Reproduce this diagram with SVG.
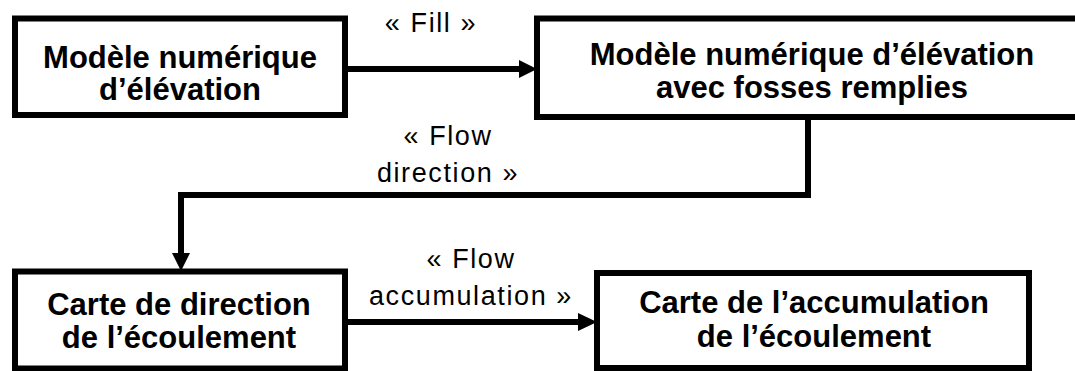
<svg xmlns="http://www.w3.org/2000/svg" width="1075" height="371" viewBox="0 0 1075 371">
  <style>
    .box { fill: #ffffff; stroke: #000000; stroke-width: 6; }
    .nt { font-family: "Liberation Sans", Arial, sans-serif; font-weight: bold; font-size: 31px; fill: #000000; text-anchor: middle; }
    .lbl { font-family: "Liberation Sans", Arial, sans-serif; font-size: 27px; letter-spacing: 1.6px; fill: #000000; text-anchor: middle; }
    .edge { fill: none; stroke: #000000; stroke-width: 6; stroke-linejoin: miter; stroke-linecap: butt; }
    .head { fill: #000000; }
  </style>
  <rect width="1075" height="371" fill="#ffffff"/>

  <g id="connectors">
    <path class="edge" d="M345 69 H520"/>
    <polygon class="head" points="519,60 537,69 519,78"/>
    <path class="edge" d="M808 117 V195 H181 V255"/>
    <polygon class="head" points="172,253 181,271 190,253"/>
    <path class="edge" d="M345 322 H580"/>
    <polygon class="head" points="578,313 597,322 578,331"/>
  </g>

  <g id="labels">
    <text class="lbl" x="431" y="32">« Fill »</text>
    <text class="lbl" x="448" y="145">« Flow</text>
    <text class="lbl" x="448" y="182">direction »</text>
    <text class="lbl" x="471" y="268">« Flow</text>
    <text class="lbl" x="471" y="305">accumulation »</text>
  </g>

  <g id="node-mne">
    <rect class="box" x="15" y="18.5" width="330" height="96.5"/>
    <text class="nt" x="180" y="68">Modèle numérique</text>
    <text class="nt" x="180" y="100">d’élévation</text>
  </g>

  <g id="node-mne-rempli">
    <rect class="box" x="537" y="18.5" width="600" height="98.5"/>
    <text class="nt" x="812" y="65">Modèle numérique d’élévation</text>
    <text class="nt" x="812" y="98">avec fosses remplies</text>
  </g>

  <g id="node-direction">
    <rect class="box" x="15" y="271.5" width="330" height="97"/>
    <text class="nt" x="179" y="315">Carte de direction</text>
    <text class="nt" x="179" y="348">de l’écoulement</text>
  </g>

  <g id="node-accumulation">
    <rect class="box" x="597" y="273" width="432" height="95"/>
    <text class="nt" x="814" y="313">Carte de l’accumulation</text>
    <text class="nt" x="814" y="347">de l’écoulement</text>
  </g>
</svg>
